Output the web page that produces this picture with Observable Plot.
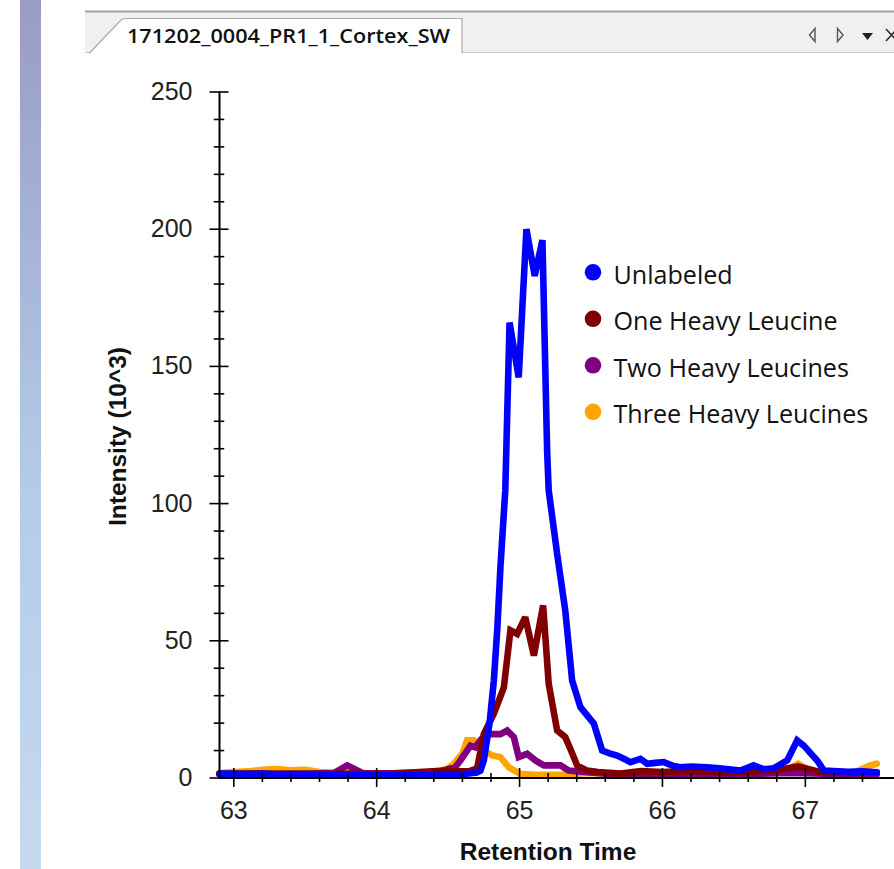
<!DOCTYPE html>
<html>
<head>
<meta charset="utf-8">
<script src="https://cdn.jsdelivr.net/npm/d3@7"></script>
<script src="https://cdn.jsdelivr.net/npm/@observablehq/plot@0.6"></script>
<style>
  html, body { margin: 0; padding: 0; background: #fff; }
  #wrap { position: relative; width: 894px; height: 869px; overflow: hidden; background: #fff; }
  #bar { position: absolute; left: 20px; top: 0; width: 21px; height: 869px;
         background: linear-gradient(#999bc6, #b3cbe7 55%, #c6daef); }
  #hdr { position: absolute; left: 0; top: 0; z-index: 1; }
  #chart { position: absolute; left: 0; top: 0; z-index: 2; }
  #legend { position: absolute; left: 0; top: 0; z-index: 3; }
</style>
</head>
<body>
<div id="wrap">
  <div id="bar"></div>
  <svg id="hdr" width="894" height="60" xmlns="http://www.w3.org/2000/svg">
    <rect x="85" y="11" width="809" height="42" fill="#f0f0f0"></rect>
    <line x1="85" y1="11.5" x2="894" y2="11.5" stroke="#a0a0a0" stroke-width="2"></line>
    <line x1="85" y1="52.5" x2="894" y2="52.5" stroke="#c9c9c9" stroke-width="1"></line>
    <path d="M89,54 L121,20 Q123,18.5 126,18.5 L462,18.5 L462,54 Z" fill="#ffffff"></path>
    <path d="M89,53.5 L121,20 Q123,18.5 126,18.5 L462,18.5 L462,53" fill="none" stroke="#a9a9a9" stroke-width="1.2"></path>
    <text x="127" y="43" font-family="Open Sans, sans-serif" font-weight="600" font-size="20" fill="#111" textLength="323" lengthAdjust="spacingAndGlyphs">171202_0004_PR1_1_Cortex_SW</text>
    <path d="M815,28.5 L809.5,35 L815,41.5 Z" fill="none" stroke="#555" stroke-width="1.4"></path>
    <path d="M837.5,28.5 L843,35 L837.5,41.5 Z" fill="none" stroke="#555" stroke-width="1.4"></path>
    <path d="M862,33 L873,33 L867.5,40 Z" fill="#222"></path>
    <path d="M886,29 L897,41 M897,29 L886,41" stroke="#333" stroke-width="1.6"></path>
  </svg>
  <div id="chart"></div>
  <svg id="legend" width="894" height="869" xmlns="http://www.w3.org/2000/svg"></svg>
</div>
<script>
// ---- data ----
const seriesNames = ["Unlabeled", "One Heavy Leucine", "Two Heavy Leucines", "Three Heavy Leucines"];
const seriesColors = ["#0000ff", "#800000", "#800080", "#ffa500"];

const unlabeledTime = [62.9, 63.0, 63.1, 63.2, 63.3, 63.4, 63.5, 63.6, 63.7, 63.8, 63.9, 64.0, 64.1, 64.2, 64.3, 64.4, 64.5, 64.6, 64.7, 64.726, 64.75, 64.79, 64.82, 64.845, 64.866, 64.90, 64.93, 64.994, 65.048, 65.106, 65.16, 65.193, 65.204, 65.263, 65.32, 65.368, 65.426, 65.47, 65.52, 65.578, 65.63, 65.683, 65.73, 65.776, 65.846, 65.893, 65.95, 66.009, 66.07, 66.126, 66.2, 66.313, 66.4, 66.546, 66.637, 66.71, 66.777, 66.873, 66.943, 66.989, 67.083, 67.13, 67.2, 67.3, 67.4, 67.5];
const unlabeledIntensity = [1.6, 1.5, 1.4, 1.6, 1.3, 1.4, 1.2, 1.1, 1.3, 1.2, 1.0, 1.1, 1.0, 1.2, 1.1, 1.2, 1.3, 1.4, 2.0, 2.7, 6.4, 20, 35.5, 55, 76.8, 104.8, 166, 146, 200, 183, 196, 119, 104.8, 81.7, 61, 35.5, 25.8, 23, 19.8, 10, 9, 8.2, 7, 5.8, 7, 5.2, 5.5, 5.8, 4.5, 3.9, 4.2, 3.9, 3.5, 2.7, 4.6, 3.2, 3.5, 6.4, 13.7, 11.8, 6.4, 2.7, 2.5, 2.3, 2.4, 2.1];

const oneHeavyTime = [62.9, 63.2, 63.5, 63.8, 64.1, 64.3, 64.45, 64.6, 64.65, 64.703, 64.75, 64.82, 64.89, 64.936, 64.983, 65.04, 65.1, 65.165, 65.204, 65.263, 65.32, 65.36, 65.403, 65.473, 65.55, 65.706, 65.85, 66.0, 66.2, 66.4, 66.6, 66.8, 66.95, 67.1, 67.3, 67.5];
const oneHeavyIntensity = [1.5, 1.6, 1.4, 1.5, 1.6, 2.2, 2.6, 2.4, 2.5, 3.5, 16, 23.4, 33, 53.8, 52.5, 58.6, 44.6, 62.9, 34.3, 17.3, 14.9, 10, 4.6, 2.7, 2.2, 1.6, 2.5, 2.2, 2.6, 2.0, 2.3, 2.8, 4.2, 2.2, 1.8, 2.0];

const twoHeavyTime = [62.9, 63.1, 63.3, 63.5, 63.7, 63.794, 63.9, 64.1, 64.3, 64.45, 64.55, 64.586, 64.656, 64.69, 64.73, 64.773, 64.866, 64.913, 64.96, 64.994, 65.053, 65.111, 65.17, 65.24, 65.287, 65.344, 65.473, 65.6, 65.8, 66.0, 66.3, 66.6, 66.9, 67.2, 67.5];
const twoHeavyIntensity = [1.3, 1.5, 1.4, 1.6, 1.8, 4.6, 1.8, 1.7, 1.9, 2.4, 4.0, 6.4, 11.8, 11.2, 14, 16, 16, 17.3, 14.9, 7.6, 8.8, 6.4, 4.6, 4.6, 4.6, 2.7, 2.1, 1.6, 1.5, 1.7, 1.4, 1.5, 1.8, 1.5, 1.4];

const threeHeavyTime = [62.9, 63.0, 63.1, 63.2, 63.3, 63.4, 63.5, 63.6, 63.8, 64.0, 64.2, 64.4, 64.5, 64.54, 64.6, 64.633, 64.68, 64.75, 64.81, 64.866, 64.924, 65.006, 65.1, 65.3, 65.5, 65.7, 66.0, 66.3, 66.6, 66.85, 66.95, 67.05, 67.2, 67.35, 67.45, 67.5];
const threeHeavyIntensity = [1.8, 2.2, 2.4, 3.0, 3.3, 2.8, 3.0, 2.2, 1.8, 1.6, 1.7, 2.0, 3.5, 5.2, 9, 13.7, 13.7, 10, 8.2, 7.6, 3.9, 1.5, 1.2, 1.3, 1.8, 1.4, 1.6, 1.5, 1.6, 2.5, 5.2, 2.0, 1.8, 2.2, 4.5, 5.2];

const xDomain = [62.9, 67.624];
const yDomain = [0, 250];
const xMajorTicks = [63, 64, 65, 66, 67];
const xMinorTicks = [63.2, 63.4, 63.6, 63.8, 64.2, 64.4, 64.6, 64.8, 65.2, 65.4, 65.6, 65.8, 66.2, 66.4, 66.6, 66.8, 67.2, 67.4];
const yMajorTicks = [0, 50, 100, 150, 200, 250];
const yMinorTicks = [10, 20, 30, 40, 60, 70, 80, 90, 110, 120, 130, 140, 160, 170, 180, 190, 210, 220, 230, 240];
const xLabel = "Retention Time";
const yLabel = "Intensity (10^3)";

// ---- build table ----
const toRows = (name, ts, vs) => ts.map((t, i) => ({series: name, t, v: vs[i]}));
const rows = {
  "Unlabeled": toRows("Unlabeled", unlabeledTime, unlabeledIntensity),
  "One Heavy Leucine": toRows("One Heavy Leucine", oneHeavyTime, oneHeavyIntensity),
  "Two Heavy Leucines": toRows("Two Heavy Leucines", twoHeavyTime, twoHeavyIntensity),
  "Three Heavy Leucines": toRows("Three Heavy Leucines", threeHeavyTime, threeHeavyIntensity)
};
const drawOrder = ["Three Heavy Leucines", "Two Heavy Leucines", "One Heavy Leucine", "Unlabeled"];

const lineMarks = drawOrder.map(name => Plot.line(rows[name], {
  x: "t", y: "v", stroke: "series", strokeWidth: 6.6, strokeLinejoin: "miter", strokeMiterlimit: 3, curve: "linear"
}));

const axisFont = "'Liberation Sans', Arial, sans-serif";

const chart = Plot.plot({
  width: 894,
  height: 869,
  marginLeft: 219,
  marginRight: 0,
  marginTop: 91.5,
  marginBottom: 91.5,
  style: {background: "transparent", fontFamily: axisFont, fontSize: "25px", color: "#1a1a1a", overflow: "visible"},
  x: {domain: xDomain},
  y: {domain: yDomain},
  color: {domain: seriesNames, range: seriesColors},
  marks: [
    ...lineMarks,
    Plot.ruleX([xDomain[0]], {y1: yDomain[0], y2: yDomain[1], stroke: "#000", strokeWidth: 2}),
    Plot.ruleY([yDomain[0]], {stroke: "#000", strokeWidth: 2}),
    Plot.axisY({ticks: yMajorTicks, tickSize: 19, dx: 9.5, fill: null, label: null, stroke: "#000", strokeWidth: 1.6}),
    Plot.axisY({ticks: yMinorTicks, tickSize: 10.5, dx: 5.25, fill: null, label: null, stroke: "#000", strokeWidth: 1.6}),
    Plot.axisY({ticks: yMajorTicks, tickSize: 0, tickPadding: 27, label: null, fontSize: 25, fill: "#222"}),
    Plot.axisX({ticks: xMajorTicks, tickSize: 19, dy: -9.5, fill: null, label: null, stroke: "#000", strokeWidth: 1.6}),
    Plot.axisX({ticks: xMinorTicks, tickSize: 9, dy: -4.5, fill: null, label: null, stroke: "#000", strokeWidth: 1.6}),
    Plot.axisX({ticks: xMajorTicks, tickSize: 0, tickPadding: 23.5, label: null, fontSize: 25, fill: "#222", tickFormat: d => String(d)}),
    Plot.text([xLabel], {text: d => d, frameAnchor: "bottom", textAnchor: "middle", dy: 82, dx: -9, fontWeight: "bold", fontSize: 24.5, fill: "#111"}),
    Plot.text([yLabel], {text: d => d, frameAnchor: "left", textAnchor: "middle", rotate: -90, dx: -101, dy: 1.5, fontWeight: "bold", fontSize: 24.5, fill: "#111"})
  ]
});
document.getElementById("chart").appendChild(chart);

// ---- legend (overlay) ----
const leg = d3.select("#legend");
seriesNames.forEach((name, i) => {
  const cy = 272.3 + i * 46.5;
  leg.append("circle").attr("cx", 593).attr("cy", cy).attr("r", 8.3).attr("fill", seriesColors[i]);
  leg.append("text").attr("x", 613.5).attr("y", cy + 11.2)
    .attr("font-family", "'Open Sans', sans-serif").attr("font-size", 25.1).attr("fill", "#111")
    .text(name);
});
</script>
</body>
</html>
